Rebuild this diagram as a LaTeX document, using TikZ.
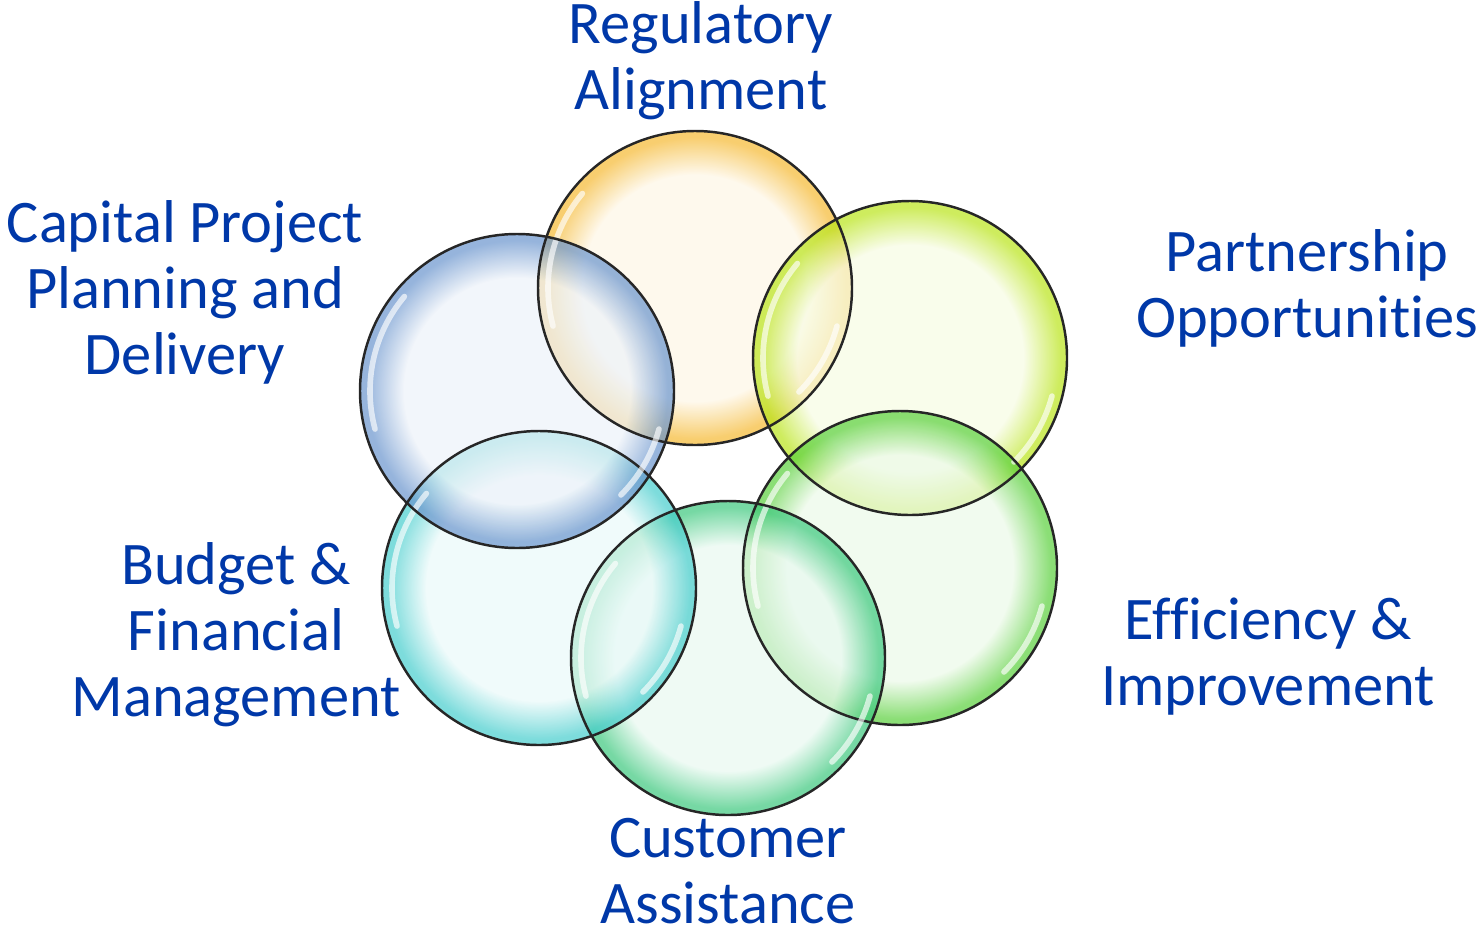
\documentclass[tikz,border=0pt]{standalone}
\usepackage{fontspec}
\setmainfont{Carlito}[Ligatures=NoCommon]
\usepackage{tikz}

\definecolor{labelblue}{RGB}{0,56,168}
\definecolor{regcol}{RGB}{245,185,50}
\definecolor{partcol}{RGB}{185,228,25}
\definecolor{effcol}{RGB}{90,208,60}
\definecolor{custcol}{RGB}{60,200,125}
\definecolor{budcol}{RGB}{70,205,205}
\definecolor{capcol}{RGB}{105,148,205}

\colorlet{bubblein}{white}
\colorlet{bubbleout}{gray}
\pgfdeclareradialshading[bubblein,bubbleout]{bubble}{\pgfpoint{0bp}{0bp}}%
  {color(0bp)=(bubblein); color(18bp)=(bubblein); color(24bp)=(bubbleout); color(25bp)=(bubbleout); color(50bp)=(bubbleout)}

\tikzstyle{bubble} = [circle, minimum size=3.14cm, inner sep=0pt, shade, shading=bubble, fill opacity=0.7]
\tikzstyle{rim} = [draw=black!85, line width=0.7pt]
\tikzstyle{gloss} = [white, line width=1.6pt, opacity=0.65, line cap=round]
\tikzstyle{label} = [align=center, inner sep=0pt, text=labelblue, font=\fontsize{17.2}{18.8}\selectfont]
\tikzset{tint/.style={/utils/exec={\colorlet{bubblein}{#1!12}\colorlet{bubbleout}{#1}}}}

\begin{document}
\begin{tikzpicture}
    \useasboundingbox (0,0) rectangle (14.84,9.37);

    \node[bubble, tint=regcol] at (6.95,6.49) (reg) {};
    \node[bubble, tint=partcol] at (9.10,5.79) (part) {};
    \node[bubble, tint=effcol] at (9.00,3.69) (eff) {};
    \node[bubble, tint=custcol] at (7.28,2.79) (cust) {};
    \node[bubble, tint=budcol] at (5.39,3.49) (bud) {};
    \node[bubble, tint=capcol] at (5.17,5.46) (cap) {};

    % outlines on top, then glossy highlights
    \foreach \n in {reg,part,eff,cust,bud,cap} {
        \draw[rim] (\n.center) circle (1.57cm);
        \draw[gloss] ([shift={(140:1.47cm)}]\n.center) arc (140:195:1.47cm);
        \draw[gloss] ([shift={(-15:1.47cm)}]\n.center) arc (-15:-45:1.47cm);
    }

    \node[label] at (7.01,8.76) (reglab) {Regulatory\\Alignment};
    \node[label] at (13.07,6.49) (partlab) {Partnership\\Opportunities};
    \node[label] at (12.68,2.80) (efflab) {Efficiency \&\\Improvement};
    \node[label] at (7.28,0.66) (custlab) {Customer\\Assistance};
    \node[label] at (2.36,3.02) (budlab) {Budget \&\\Financial\\Management};
    \node[label] at (1.85,6.45) (caplab) {Capital Project\\Planning and\\Delivery};
\end{tikzpicture}
\end{document}
